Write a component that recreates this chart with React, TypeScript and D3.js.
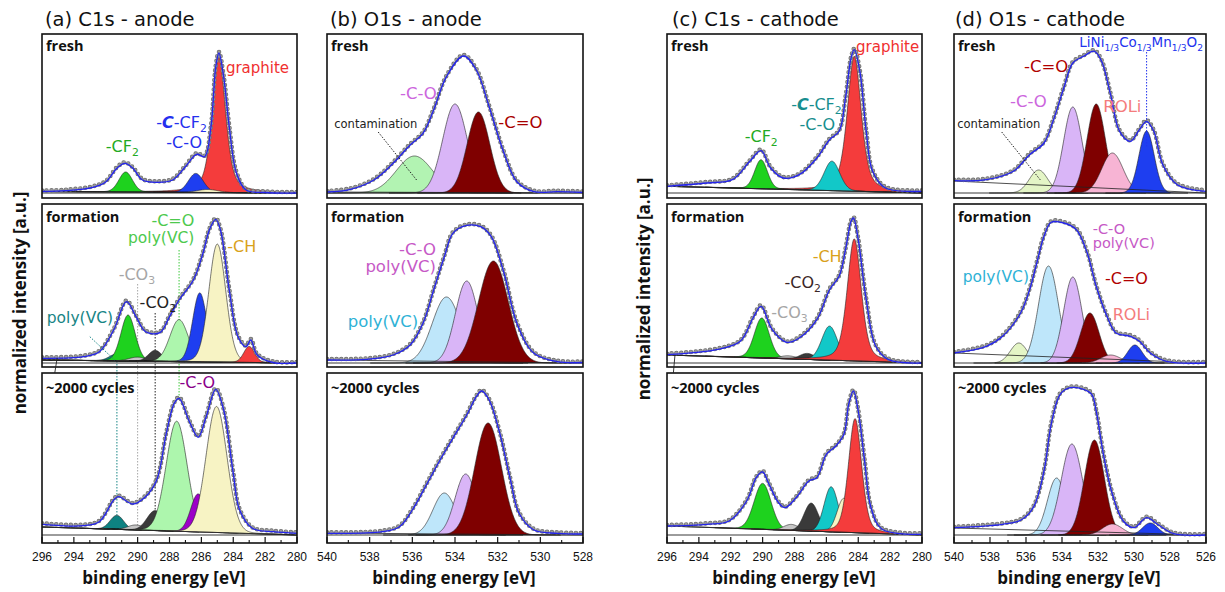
import React from 'react';
import * as d3 from 'd3';

type Pt = [number, number];
// [component, centre eV, height, FWHM eV, Lorentzian fraction]
type Peak = [string, number, number, number, number];
type Part = { t: string; sub?: boolean; bi?: boolean };

// ---------------- axis text / ticks ----------------
const ticksC1s = [296, 294, 292, 290, 288, 286, 284, 282, 280];
const ticksAnodeO1s = [540, 538, 536, 534, 532, 530, 528];
const ticksCathodeO1s = [540, 538, 536, 534, 532, 530, 528, 526];
const panelTitles = ['(a) C1s - anode', '(b) O1s - anode', '(c) C1s - cathode', '(d) O1s - cathode'];
const rowNames = ['fresh', 'formation', '~2000 cycles'];
const yAxisTitle = 'normalized intensity [a.u.]';
const xAxisTitle = 'binding energy [eV]';

// ---------------- measured envelopes [eV, intensity] ----------------
const aFreshEnv: Pt[] = [[296, 1.5], [294.5, 2.3], [292.8, 5.7], [292.0, 11], [291.3, 24.7], [290.8, 29.7], [290.3, 24.7], [289.7, 13], [288.8, 10.7], [287.8, 13], [287.0, 26.3], [286.3, 38.7], [285.8, 36.3], [285.4, 66], [285.1, 126], [284.9, 140], [284.6, 116], [284.25, 66], [283.8, 20], [283.2, 3], [282, 0.5], [280, 0]];
const aFormEnv: Pt[] = [[296, 4.7], [293.4, 6.3], [292.4, 11.3], [291.5, 33], [290.7, 61.3], [290.1, 46.3], [289.5, 31.3], [288.6, 30.3], [288.0, 46.3], [287.4, 63], [286.5, 83], [285.9, 109.7], [285.5, 133], [285.1, 143.7], [284.8, 133], [284.25, 73], [283.7, 26.3], [283.2, 16.3], [282.9, 23], [282.5, 8], [281.5, 0.5], [280, 0]];
const aCycEnv: Pt[] = [[296, 10.7], [293.4, 9.3], [292.4, 13.3], [291.5, 35], [291.2, 38.3], [290.3, 31], [289.5, 38.3], [288.8, 55], [288.2, 101.7], [287.7, 131.7], [287.4, 136.7], [286.75, 113.3], [286.2, 97.7], [285.7, 118.3], [285.1, 145.7], [284.6, 125], [284.0, 61.7], [283.6, 25], [282.8, 6.7], [281.5, 3.3], [280, 1.7]];
const bFreshEnv: Pt[] = [[540, 1], [538.9, 3.7], [537.8, 13], [536.9, 29.7], [536.1, 48], [535.5, 59.7], [535.0, 83], [534.4, 116.3], [533.6, 137], [533.0, 123], [532.4, 86.3], [531.7, 39.7], [531.1, 11.3], [530.3, 1.3], [529.2, 1.3], [528, 0.5]];
const bFormEnv: Pt[] = [[540, 3], [538.1, 3.7], [536.9, 8], [536.1, 18], [535.5, 39.7], [535.0, 73], [534.5, 106.3], [534.1, 129.7], [533.5, 137.3], [532.8, 136.3], [532.3, 126.3], [531.7, 89.7], [531.1, 39.7], [530.3, 9.7], [529.2, 1.3], [528, 0.5]];
const bCycEnv: Pt[] = [[540, 1.7], [537.4, 3.3], [536.6, 8.3], [536.0, 25], [535.3, 51.7], [534.7, 75], [534.1, 96.7], [533.45, 120], [533.0, 138.3], [532.75, 144], [532.4, 135], [531.9, 101.7], [531.4, 55], [531.0, 21.7], [530.3, 5], [529.2, 1.7], [528, 1]];
const cFreshEnv: Pt[] = [[296, 6.7], [293.5, 10], [291.9, 13.3], [290.8, 31.7], [290.1, 42.3], [289.5, 25], [288.7, 15], [287.7, 18.3], [286.6, 35], [285.8, 53.3], [285.2, 61.7], [284.8, 95], [284.45, 135], [284.25, 143.3], [283.9, 121.7], [283.5, 61.7], [283.1, 21.7], [282.3, 5], [280, 1.7]];
const cFormEnv: Pt[] = [[296, 8.3], [292.9, 13.3], [291.4, 21.7], [290.6, 45], [290.1, 56.7], [289.4, 33.3], [288.5, 20.7], [287.7, 25], [286.6, 43.3], [285.8, 73.3], [285.2, 86.7], [284.8, 113.3], [284.45, 141.7], [284.3, 145], [284.0, 123.3], [283.5, 63.3], [282.9, 16.7], [282.1, 3.3], [280, 0]];
const cCycEnv: Pt[] = [[296, 9], [293.5, 10.7], [292.1, 14], [291.0, 34], [290.4, 57.3], [290.0, 63], [289.6, 50.7], [289.0, 32.3], [288.6, 27.3], [287.9, 37.3], [287.1, 54], [286.6, 57.3], [286.0, 80.7], [285.4, 89], [284.9, 100.7], [284.6, 130.7], [284.3, 144], [284.0, 124], [283.6, 74], [283.2, 27.3], [282.5, 5.7], [280, 0.7]];
const dFreshEnv: Pt[] = [[540, 12.3], [538.2, 13.3], [536.7, 21.7], [535.8, 38.3], [535.0, 50], [534.5, 71.7], [533.9, 105], [533.4, 130], [532.8, 136.7], [532.2, 141.7], [531.8, 131.7], [531.3, 98.3], [530.8, 61.7], [530.2, 51.7], [529.7, 63.3], [529.3, 71.7], [528.9, 61.7], [528.4, 28.3], [527.6, 8.3], [526, 1.7]];
const dFormEnv: Pt[] = [[540, 10], [538.2, 16.7], [537.3, 26.7], [536.3, 50], [535.8, 73.3], [535.4, 100], [535.0, 126.7], [534.6, 140.7], [533.9, 140], [533.2, 133.3], [532.6, 110], [532.1, 76.7], [531.5, 46.7], [531.0, 30], [530.2, 26.7], [529.7, 21.7], [529.1, 10], [528.2, 1.7], [526, 0]];
const dCycEnv: Pt[] = [[540, 7.3], [537.3, 10.7], [536.3, 14.7], [535.6, 27.3], [535.0, 64], [534.6, 110.7], [534.1, 140.7], [533.55, 147.3], [532.8, 145.7], [532.35, 140.7], [532.1, 124], [531.7, 80.7], [531.2, 40.7], [530.6, 14], [530.0, 7.3], [529.3, 17.3], [528.7, 10.7], [527.8, 1.3], [526, 0]];

// ---------------- fitted components ----------------
const aFreshPeaks: Peak[] = [['graphite', 284.9, 136, 1.0, 0.5], ['CF2', 290.75, 20, 1.0, 0.1], ['CCF2', 286.35, 19, 1.1, 0.1], ['CH', 285.6, 3, 1.5, 0]];
const aFormPeaks: Peak[] = [['polyVCteal', 291.3, 7, 1.1, 0], ['CF2', 290.6, 46, 1.05, 0.1], ['CO3', 290.0, 4, 1.3, 0], ['CO2', 288.9, 11, 1.0, 0], ['CeqOVC', 287.4, 42, 1.35, 0.05], ['CCF2', 286.1, 69, 1.05, 0.05], ['CH', 285.0, 118, 1.25, 0.1], ['graphite', 283.0, 16, 0.8, 0.1]];
const aCycPeaks: Peak[] = [['polyVCteal', 291.3, 14, 1.0, 0], ['CO3', 290.1, 5, 1.2, 0], ['CO2', 288.9, 20, 1.2, 0], ['CeqOVC', 287.55, 110, 1.55, 0.05], ['COpurple', 286.2, 38, 1.1, 0], ['CH', 285.05, 126, 1.55, 0.05]];
const bFreshPeaks: Peak[] = [['contam', 535.9, 37, 2.0, 0], ['COlav', 534.0, 89, 1.35, 0], ['CeqO', 532.9, 81, 1.25, 0]];
const bFormPeaks: Peak[] = [['polyVCblue', 534.4, 66, 1.56, 0], ['COlav', 533.45, 82, 1.25, 0], ['CeqO', 532.2, 102, 1.64, 0]];
const bCycPeaks: Peak[] = [['polyVCblue', 534.5, 42, 1.25, 0], ['COlav', 533.5, 61, 1.17, 0], ['CeqO', 532.45, 112, 1.48, 0]];
const cFreshPeaks: Peak[] = [['graphite', 284.25, 135, 1.04, 0.5], ['CF2', 290.1, 29, 0.94, 0.1], ['CCF2teal', 285.65, 29.5, 1.15, 0.1]];
const cFormPeaks: Peak[] = [['CF2', 290.05, 40, 1.1, 0.1], ['CO3', 288.4, 3, 1.2, 0], ['CO2', 287.2, 6, 1.1, 0], ['CCF2teal', 285.8, 34, 1.15, 0.1], ['CH', 284.9, 21, 0.9, 0], ['graphite', 284.25, 122, 1.04, 0.4]];
const cCycPeaks: Peak[] = [['CF2', 290.0, 46, 1.25, 0.05], ['CO3', 288.2, 6, 1.1, 0], ['CO2', 286.95, 28, 1.05, 0], ['CCF2teal', 285.7, 45, 1.04, 0], ['CH', 284.9, 34, 1.0, 0], ['graphite', 284.2, 114, 0.98, 0.3]];
const dFreshPeaks: Peak[] = [['contamD', 535.3, 23, 1.2, 0], ['COlav', 533.4, 86, 1.2, 0], ['CeqO', 532.1, 89, 1.2, 0], ['ROLi', 531.2, 40, 1.4, 0], ['NMC', 529.3, 62, 1.0, 0]];
const dFormPeaks: Peak[] = [['contamD', 536.4, 20, 1.1, 0], ['polyVCblue', 534.75, 97, 1.3, 0], ['COlav', 533.4, 86, 1.2, 0], ['CeqO', 532.45, 50, 1.2, 0], ['ROLi', 531.3, 8, 1.3, 0], ['NMC', 529.95, 18, 0.95, 0]];
const dCycPeaks: Peak[] = [['polyVCblue', 534.3, 57, 1.2, 0], ['COlav', 533.45, 91, 1.4, 0], ['CeqO', 532.2, 95, 1.3, 0], ['ROLi', 531.2, 11, 1.3, 0], ['NMC', 529.1, 12, 1.0, 0]];

// ---------------- linear backgrounds [left edge, right edge] ----------------
const aFreshBg = [1.5, 0], aFormBg = [3, 0], aCycBg = [8, 0];
const bFreshBg = [1, 0], bFormBg = [3, 0], bCycBg = [2, 0];
const cFreshBg = [6.7, 0], cFormBg = [8, 0], cCycBg = [9, 0];
const dFreshBg = [12, 0], dFormBg = [10, 0], dCycBg = [7, 0];

// ---------------- styles ----------------
const compColor: Record<string, string> = {
  graphite: '#F43C3C', CF2: '#1ED21E', CCF2: '#1E3EF0', CH: '#F7F3C4', polyVCteal: '#0E8282',
  CO3: '#C6C6C6', CO2: '#3A3A3A', CeqOVC: '#ADF6AD', COpurple: '#9C00C8', contam: '#B2F3B2',
  COlav: '#D9B5F7', CeqO: '#7F0000', polyVCblue: '#BEE6FA', CCF2teal: '#12C8C8', contamD: '#E4F5C6',
  ROLi: '#F7B4D4', NMC: '#1E3EF0',
};

const COLS = [
  { x0: 42, x1: 297, dom: [296, 280], ticks: ticksC1s, base: 'bg', titleX: 45, xTitleX: 164 },
  { x0: 327, x1: 583, dom: [540, 528], ticks: ticksAnodeO1s, base: 'zero', titleX: 330, xTitleX: 454 },
  { x0: 667, x1: 922, dom: [296, 280], ticks: ticksC1s, base: 'bg', titleX: 672, xTitleX: 794 },
  { x0: 954, x1: 1206, dom: [540, 526], ticks: ticksCathodeO1s, base: 'zero', titleX: 955, xTitleX: 1079 },
];
const ROWS = [
  { top: 34, zero: 193, bottom: 198, nameY: 50.5 },
  { top: 204, zero: 363, bottom: 367, nameY: 222 },
  { top: 373, zero: 535, bottom: 543, nameY: 392.5 },
];

const subplots = [
  { c: 0, r: 0, env: aFreshEnv, peaks: aFreshPeaks, bg: aFreshBg },
  { c: 0, r: 1, env: aFormEnv, peaks: aFormPeaks, bg: aFormBg },
  { c: 0, r: 2, env: aCycEnv, peaks: aCycPeaks, bg: aCycBg },
  { c: 1, r: 0, env: bFreshEnv, peaks: bFreshPeaks, bg: bFreshBg },
  { c: 1, r: 1, env: bFormEnv, peaks: bFormPeaks, bg: bFormBg },
  { c: 1, r: 2, env: bCycEnv, peaks: bCycPeaks, bg: bCycBg },
  { c: 2, r: 0, env: cFreshEnv, peaks: cFreshPeaks, bg: cFreshBg },
  { c: 2, r: 1, env: cFormEnv, peaks: cFormPeaks, bg: cFormBg },
  { c: 2, r: 2, env: cCycEnv, peaks: cCycPeaks, bg: cCycBg },
  { c: 3, r: 0, env: dFreshEnv, peaks: dFreshPeaks, bg: dFreshBg },
  { c: 3, r: 1, env: dFormEnv, peaks: dFormPeaks, bg: dFormBg },
  { c: 3, r: 2, env: dCycEnv, peaks: dCycPeaks, bg: dCycBg },
];

const sub = (t: string): Part => ({ t, sub: true });
const labels: { c: number; r: number; E: number; v: number; p: Part[]; col: string; s: number; a?: string }[] = [
  { c: 0, r: 0, E: 284.46, v: 119.7, p: [{ t: 'graphite' }], col: '#F03030', s: 15 },
  { c: 0, r: 0, E: 288.83, v: 64.7, p: [{ t: '-' }, { t: 'C', bi: true }, { t: '-CF' }, sub('2')], col: '#2530EE', s: 16 },
  { c: 0, r: 0, E: 288.2, v: 44.7, p: [{ t: '-C-O' }], col: '#2530EE', s: 16 },
  { c: 0, r: 0, E: 292.0, v: 41.3, p: [{ t: '-CF' }, sub('2')], col: '#22AA22', s: 16 },
  { c: 0, r: 1, E: 286.44, v: 137, p: [{ t: '-C=O' }], col: '#4DC94D', s: 16, a: 'end' },
  { c: 0, r: 1, E: 286.44, v: 120.3, p: [{ t: 'poly(VC)' }], col: '#4DC94D', s: 15.5, a: 'end' },
  { c: 0, r: 1, E: 284.375, v: 111.3, p: [{ t: '-CH' }], col: '#D9A21B', s: 16 },
  { c: 0, r: 1, E: 291.19, v: 83, p: [{ t: '-CO' }, sub('3')], col: '#A6A6A6', s: 16 },
  { c: 0, r: 1, E: 289.875, v: 55, p: [{ t: '-CO' }, sub('2')], col: '#222222', s: 16 },
  { c: 0, r: 1, E: 295.7, v: 39.7, p: [{ t: 'poly(VC)' }], col: '#178585', s: 15.5 },
  { c: 0, r: 2, E: 287.375, v: 146.7, p: [{ t: '-C-O' }], col: '#8A008A', s: 16 },
  { c: 1, r: 0, E: 536.58, v: 93.7, p: [{ t: '-C-O' }], col: '#CC66DD', s: 16.5 },
  { c: 1, r: 0, E: 531.97, v: 64.7, p: [{ t: '-C=O' }], col: '#A80000', s: 16.5 },
  { c: 1, r: 0, E: 539.66, v: 64.7, p: [{ t: 'contamination' }], col: '#222222', s: 11.5 },
  { c: 1, r: 1, E: 534.89, v: 108, p: [{ t: '-C-O' }], col: '#C659C6', s: 16.5, a: 'end' },
  { c: 1, r: 1, E: 534.89, v: 91.3, p: [{ t: 'poly(VC)' }], col: '#C659C6', s: 16.5, a: 'end' },
  { c: 1, r: 1, E: 535.72, v: 36.3, p: [{ t: 'poly(VC)' }], col: '#2FB2D6', s: 16.5, a: 'end' },
  { c: 2, r: 0, E: 284.14, v: 141.3, p: [{ t: 'graphite' }], col: '#F03030', s: 15 },
  { c: 2, r: 0, E: 288.21, v: 83, p: [{ t: '-' }, { t: 'C', bi: true }, { t: '-CF' }, sub('2')], col: '#178E8E', s: 16 },
  { c: 2, r: 0, E: 287.69, v: 63, p: [{ t: '-C-O' }], col: '#178E8E', s: 16 },
  { c: 2, r: 0, E: 291.125, v: 51.3, p: [{ t: '-CF' }, sub('2')], col: '#22AA22', s: 16 },
  { c: 2, r: 1, E: 286.86, v: 101.3, p: [{ t: '-CH' }], col: '#D9A21B', s: 16 },
  { c: 2, r: 1, E: 288.625, v: 74.7, p: [{ t: '-CO' }, sub('2')], col: '#3A2626', s: 16 },
  { c: 2, r: 1, E: 289.46, v: 44.7, p: [{ t: '-CO' }, sub('3')], col: '#A6A6A6', s: 16 },
  { c: 3, r: 0, E: 533.04, v: 146.3, p: [{ t: 'LiNi' }, sub('1/3'), { t: 'Co' }, sub('1/3'), { t: 'Mn' }, sub('1/3'), { t: 'O' }, sub('2')], col: '#2233EE', s: 13.5 },
  { c: 3, r: 0, E: 536.11, v: 121.3, p: [{ t: '-C=O' }], col: '#B00000', s: 16.5 },
  { c: 3, r: 0, E: 536.89, v: 86.3, p: [{ t: '-C-O' }], col: '#CC66DD', s: 16.5 },
  { c: 3, r: 0, E: 531.71, v: 81.3, p: [{ t: 'ROLi' }], col: '#F47C7C', s: 16.5 },
  { c: 3, r: 0, E: 539.82, v: 64.7, p: [{ t: 'contamination' }], col: '#222222', s: 11.5 },
  { c: 3, r: 1, E: 532.29, v: 129.5, p: [{ t: '-C-O' }], col: '#C659C6', s: 14.5 },
  { c: 3, r: 1, E: 532.29, v: 114.7, p: [{ t: 'poly(VC)' }], col: '#C659C6', s: 14.5 },
  { c: 3, r: 1, E: 539.52, v: 81.3, p: [{ t: 'poly(VC)' }], col: '#2FB2D6', s: 15.5 },
  { c: 3, r: 1, E: 531.61, v: 78.7, p: [{ t: '-C=O' }], col: '#B00000', s: 16 },
  { c: 3, r: 1, E: 531.18, v: 43, p: [{ t: 'ROLi' }], col: '#F47C7C', s: 16 },
];

// guide lines in (a) running from the formation panel into the cycled panel
const aGuides = [
  { E: 291.3, top: 8, bottom: 20, color: '#178585' },
  { E: 290.0, top: 79, bottom: 9, color: '#A6A6A6' },
  { E: 288.9, top: 50, bottom: 25, color: '#222222' },
  { E: 287.4, top: 113, bottom: 137, color: '#3CC83C' },
];
const leaders: { c: number; r: number; pts: Pt[]; color: string }[] = [
  { c: 1, r: 0, pts: [[537.6, 61], [535.8, 13]], color: '#222222' },
  { c: 3, r: 0, pts: [[537.35, 61], [535.2, 13]], color: '#222222' },
  { c: 0, r: 1, pts: [[293.0, 26.3], [291.44, 3]], color: '#178585' },
  { c: 3, r: 0, pts: [[529.3, 141], [529.3, 46]], color: '#2233EE' },
];
const stubs: { c: number; r: number; pts: Pt[] }[] = [
  { c: 0, r: 1, pts: [[295.05, 5], [295.2, -10]] },
  { c: 2, r: 1, pts: [[295.5, 8], [295.6, -10]] },
];

const xs = COLS.map(c => d3.scaleLinear().domain(c.dom).range([c.x0, c.x1]));
const ys = ROWS.map(r => d3.scaleLinear().domain([0, 160]).range([r.zero, r.zero - 160]));

function pv(E: number, p: Peak) {
  const d = (E - p[1]) / p[3];
  return p[2] * ((1 - p[4]) * Math.exp(-4 * Math.LN2 * d * d) + p[4] / (1 + 4 * d * d));
}

const LABEL_FONT = "'DejaVu Sans', Verdana, sans-serif";
const BOLD_FONT = "'Open Sans', 'DejaVu Sans', sans-serif";

function Label({ l }: { l: (typeof labels)[number] }) {
  const x = xs[l.c](l.E), y = ys[l.r](l.v);
  let off = 0;
  const subSize = l.s * 0.68;
  return (
    <text x={x} y={y} fill={l.col} fontSize={l.s} fontFamily={LABEL_FONT} textAnchor={(l.a as any) || 'start'}>
      {l.p.map((pt, i) => {
        const target = pt.sub ? 4 : 0;
        const dy = target - off;
        off = target;
        return (
          <tspan key={i} dy={dy} fontSize={pt.sub ? subSize : l.s} fontWeight={pt.bi ? 'bold' : 'normal'} fontStyle={pt.bi ? 'italic' : 'normal'}>
            {pt.t}
          </tspan>
        );
      })}
    </text>
  );
}

function Subplot({ sp }: { sp: (typeof subplots)[number] }) {
  const col = COLS[sp.c], row = ROWS[sp.r];
  const x = xs[sp.c], y = ys[sp.r];
  const [eL, eR] = col.dom;
  const lo = Math.min(eL, eR), hi = Math.max(eL, eR);
  const bgAt = (E: number) => sp.bg[0] + (sp.bg[1] - sp.bg[0]) * (eL - E) / (eL - eR);
  const baseAt = col.base === 'bg' ? bgAt : (_E: number) => 0;
  const id = `clip-${sp.c}-${sp.r}`;
  const envLine = d3.line<Pt>().x(d => x(d[0])).y(d => y(d[1])).curve(d3.curveCatmullRom.alpha(0.5));
  const bgLine = d3.line<number>().x(E => x(E)).y(E => y(bgAt(E)));
  const envD = envLine(sp.env) || '';
  return (
    <g>
      <clipPath id={id}>
        <rect x={col.x0} y={row.top} width={col.x1 - col.x0} height={row.bottom - row.top} />
      </clipPath>
      <g clipPath={`url(#${id})`}>
        {sp.peaks.map((p, i) => {
          const span = p[4] > 0 ? 9 * p[3] : 2.3 * p[3];
          const Es = d3.range(Math.max(lo, p[1] - span), Math.min(hi, p[1] + span), 0.02);
          const area = d3.area<number>().x(E => x(E)).y0(E => y(baseAt(E))).y1(E => y(baseAt(E) + pv(E, p)));
          return <path key={i} d={area(Es) || ''} fill={compColor[p[0]]} stroke="#222" strokeWidth={0.6} strokeLinejoin="round" />;
        })}
        <path d={bgLine([eL, eR]) || ''} stroke="#222" strokeWidth={0.8} fill="none" />
        <line x1={col.x0} x2={col.x1} y1={row.zero} y2={row.zero} stroke="#222" strokeWidth={0.9} />
        <path d={envD} fill="none" stroke="#6f6f6f" strokeWidth={4.6} strokeDasharray="0 4.8" strokeLinecap="round" transform="translate(0,-1)" />
        <path d={envD} fill="none" stroke="#9a9a9a" strokeWidth={3.2} strokeDasharray="0 4.8" strokeLinecap="round" transform="translate(0,-1)" />
        <path d={envD} fill="none" stroke="#2424EE" strokeWidth={1.3} />
      </g>
      <rect x={col.x0} y={row.top} width={col.x1 - col.x0} height={row.bottom - row.top} fill="none" stroke="#111" strokeWidth={1.6} />
      <text x={col.x0 + 4} y={row.nameY} fontFamily={BOLD_FONT} fontWeight="bold" fontSize={14.5} fill="#111">{rowNames[sp.r]}</text>
    </g>
  );
}

export default function App() {
  const bottomRow = ROWS[2];
  const pathLine = d3.line<[number, number]>();
  return (
    <svg width={1225} height={592} style={{ position: 'absolute', left: 0, top: 0, background: '#fff' }}>
      <rect width={1225} height={592} fill="#fff" />
      {aGuides.map((g, i) => (
        <line key={i} x1={xs[0](g.E)} x2={xs[0](g.E)} y1={ys[1](g.top)} y2={ys[2](g.bottom)} stroke={g.color} strokeWidth={1} strokeDasharray="1.5 1.5" />
      ))}
      {subplots.map((sp, i) => <Subplot key={i} sp={sp} />)}
      {leaders.map((l, i) => (
        <path key={i} d={pathLine(l.pts.map(p => [xs[l.c](p[0]), ys[l.r](p[1])] as [number, number])) || ''} stroke={l.color} strokeWidth={1} strokeDasharray="1.5 1.5" fill="none" />
      ))}
      {stubs.map((s, i) => (
        <path key={i} d={pathLine(s.pts.map(p => [xs[s.c](p[0]), ys[s.r](p[1])] as [number, number])) || ''} stroke="#222" strokeWidth={0.9} fill="none" />
      ))}
      {labels.map((l, i) => <Label key={i} l={l} />)}
      {COLS.map((col, ci) => {
        const x = xs[ci];
        const minors = col.ticks.slice(1).map((t, i) => (t + col.ticks[i]) / 2);
        return (
          <g key={ci}>
            <text x={col.titleX} y={26} fontFamily={LABEL_FONT} fontSize={19.5} fill="#111">{panelTitles[ci]}</text>
            {col.ticks.map(t => (
              <g key={t}>
                <line x1={x(t)} x2={x(t)} y1={bottomRow.bottom} y2={bottomRow.bottom - 6} stroke="#111" strokeWidth={1.2} />
                <text x={x(t)} y={561} textAnchor="middle" fontFamily="'Liberation Sans', Arial, sans-serif" fontSize={12} fill="#111">{t}</text>
              </g>
            ))}
            {minors.map(t => (
              <line key={t} x1={x(t)} x2={x(t)} y1={bottomRow.bottom} y2={bottomRow.bottom - 3} stroke="#111" strokeWidth={1.1} />
            ))}
            <text x={col.xTitleX} y={584} textAnchor="middle" fontFamily={BOLD_FONT} fontWeight="bold" fontSize={17} fill="#111">{xAxisTitle}</text>
          </g>
        );
      })}
      <text transform="translate(26,303) rotate(-90)" textAnchor="middle" fontFamily={BOLD_FONT} fontWeight="bold" fontSize={17} fill="#111">{yAxisTitle}</text>
      <text transform="translate(650,289) rotate(-90)" textAnchor="middle" fontFamily={BOLD_FONT} fontWeight="bold" fontSize={17} fill="#111">{yAxisTitle}</text>
    </svg>
  );
}
